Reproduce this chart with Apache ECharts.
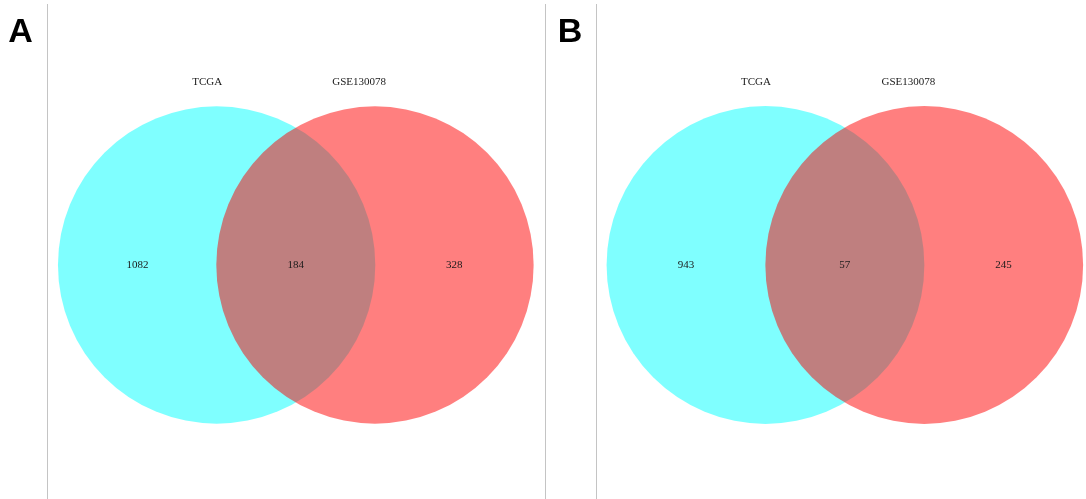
<!DOCTYPE html>
<html>
<head>
<meta charset="utf-8">
<script src="https://cdn.jsdelivr.net/npm/echarts@6/dist/echarts.min.js"></script>
<style>
html,body{margin:0;padding:0;background:#fff;}
#chart{width:1086px;height:499px;}
</style>
</head>
<body>
<div id="chart"></div>
<script>
// ---- data ----
const setNames = ['TCGA', 'GSE130078'];
const panelLetters = ['A', 'B'];
const countsA = [1082, 184, 328];   // TCGA only, both, GSE130078 only
const countsB = [943, 57, 245];

// ---- layout (data units: circle radius = 1) ----
const circleX = [0, 1];
const regionX = [-0.5, 0.5, 1.5];
const setLabelX = [-0.06, 0.9];
const setLabelY = 1.15;
const fills = ['rgba(0,255,255,0.5)', 'rgba(255,0,0,0.5)'];

const chart = echarts.init(document.getElementById('chart'));

const grids = [
  {left: 58.3, top: 106, width: 475, height: 318},
  {left: 606.7, top: 106, width: 476.3, height: 318}
];

function circleSeries(idx) {
  return {
    type: 'custom',
    xAxisIndex: idx, yAxisIndex: idx,
    silent: true,
    data: circleX.map((x, i) => [x, 0, 1, i]),
    renderItem: function (params, api) {
      const c = api.coord([api.value(0), api.value(1)]);
      const s = api.size([api.value(2), api.value(2)]);
      return {
        type: 'circle',
        shape: {cx: c[0], cy: c[1], r: (s[0] + s[1]) / 2},
        style: {fill: fills[api.value(3)], stroke: null}
      };
    }
  };
}

function textSeries(idx, items) {
  return {
    type: 'custom',
    xAxisIndex: idx, yAxisIndex: idx,
    silent: true,
    z: 5,
    data: items,
    renderItem: function (params, api) {
      const c = api.coord([api.value(0), api.value(1)]);
      return {
        type: 'text',
        x: c[0], y: c[1],
        style: {
          text: String(items[params.dataIndex][2]),
          fill: '#1a1a1a',
          font: '11px "Liberation Serif", "DejaVu Serif", serif',
          align: 'center',
          verticalAlign: 'middle'
        }
      };
    }
  };
}

const panels = [countsA, countsB];
const series = [];
panels.forEach((counts, p) => {
  series.push(circleSeries(p));
  const items = counts.map((v, i) => [regionX[i], 0, v]);
  setNames.forEach((n, i) => items.push([setLabelX[i], setLabelY, n]));
  series.push(textSeries(p, items));
});

const lineStyle = {stroke: '#c4c4c4', lineWidth: 1};
chart.setOption({
  animation: false,
  backgroundColor: '#ffffff',
  grid: grids,
  xAxis: grids.map((g, i) => ({type: 'value', gridIndex: i, min: -1, max: 2, show: false})),
  yAxis: grids.map((g, i) => ({type: 'value', gridIndex: i, min: -1, max: 1, show: false})),
  series: series,
  graphic: [
    {type: 'line', shape: {x1: 47.5, y1: 4, x2: 47.5, y2: 499}, style: lineStyle, silent: true},
    {type: 'line', shape: {x1: 545.5, y1: 4, x2: 545.5, y2: 499}, style: lineStyle, silent: true},
    {type: 'line', shape: {x1: 596.5, y1: 4, x2: 596.5, y2: 499}, style: lineStyle, silent: true},
    {type: 'text', x: 20.5, y: 33, style: {text: panelLetters[0], font: 'bold 34px "Liberation Sans", Arial, sans-serif', fill: '#000', align: 'center', verticalAlign: 'middle'}},
    {type: 'text', x: 570, y: 33, style: {text: panelLetters[1], font: 'bold 34px "Liberation Sans", Arial, sans-serif', fill: '#000', align: 'center', verticalAlign: 'middle'}}
  ]
});
</script>
</body>
</html>
